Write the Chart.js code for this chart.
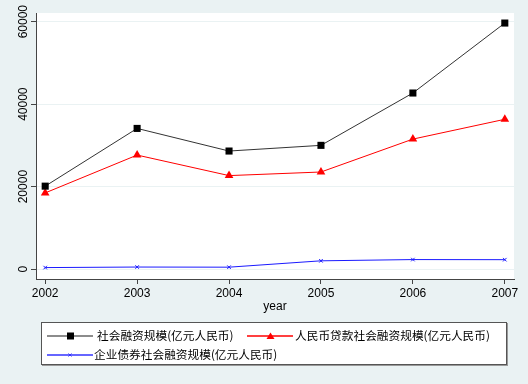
<!DOCTYPE html>
<html lang="zh">
  <head>
    <meta charset="UTF-8" />
    <title>社会融资规模</title>
    <script src="https://cdn.jsdelivr.net/npm/chart.js"></script>
    <style>
      html, body {
        margin: 0;
        padding: 0;
        background: #eaf2f3;
      }
      #wrap {
        position: relative;
        width: 528px;
        height: 384px;
      }
      #legend {
        position: absolute;
        left: 41px;
        top: 322px;
        width: 466px;
        height: 43px;
        box-sizing: border-box;
        background: #fff;
        border: 1px solid #555;
        box-shadow: 1px 1px 0 #999;
        font: 11.7px "Noto Sans CJK SC", sans-serif;
        color: #000;
      }
      #legend .item {
        position: absolute;
        line-height: 16px;
        white-space: nowrap;
      }
      #legend svg {
        position: absolute;
      }
    </style>
  </head>

  <body>
    <div id="wrap">
      <canvas id="chart" width="528" height="384"></canvas>
      <div id="legend"></div>
    </div>

    <script>
      const years = [2002, 2003, 2004, 2005, 2006, 2007];
      const total = [20112, 34113, 28629, 30008, 42696, 59663];
      const loans = [18475, 27652, 22673, 23544, 31523, 36323];
      const bonds = [367, 499, 467, 2010, 2310, 2284];
      const yTicks = [0, 20000, 40000, 60000];
      const seriesNames = [
        "社会融资规模(亿元人民币)",
        "人民币贷款社会融资规模(亿元人民币)",
        "企业债券社会融资规模(亿元人民币)",
      ];

      const axisColor = "#444";
      const tickFont = { family: "Liberation Sans", size: 12 };

      // white plot region + rotated y labels (Stata style)
      const plotBg = {
        id: "plotBg",
        beforeDraw(chart) {
          const { ctx, chartArea: a } = chart;
          ctx.save();
          ctx.fillStyle = "#fff";
          ctx.fillRect(a.left, a.top, a.right - a.left, a.bottom - a.top);
          ctx.restore();
        },
        afterDraw(chart) {
          const ctx = chart.ctx;
          const y = chart.scales.y;
          ctx.save();
          ctx.fillStyle = "#000";
          ctx.font = "12px 'Liberation Sans'";
          ctx.textAlign = "center";
          ctx.textBaseline = "alphabetic";
          yTicks.forEach((v) => {
            ctx.save();
            ctx.translate(27, y.getPixelForValue(v));
            ctx.rotate(-Math.PI / 2);
            ctx.fillText(String(v), 0, 0);
            ctx.restore();
          });
          ctx.restore();
        },
      };

      const toXY = (arr) => arr.map((v, i) => ({ x: years[i], y: v }));

      new Chart(document.getElementById("chart"), {
        type: "line",
        data: {
          datasets: [
            {
              label: seriesNames[0],
              data: toXY(total),
              borderColor: "#333",
              borderWidth: 1,
              pointStyle: "rect",
              pointRadius: 5,
              pointBackgroundColor: "#000",
              pointBorderColor: "#000",
              pointBorderWidth: 0,
            },
            {
              label: seriesNames[1],
              data: toXY(loans),
              borderColor: "#ff0000",
              borderWidth: 1,
              pointStyle: "triangle",
              pointRadius: 5,
              pointBackgroundColor: "#ff0000",
              pointBorderColor: "#ff0000",
              pointBorderWidth: 0,
            },
            {
              label: seriesNames[2],
              data: toXY(bonds),
              borderColor: "#1a1aff",
              borderWidth: 1,
              pointStyle: "crossRot",
              pointRadius: 2.5,
              pointBorderColor: "#1a1aff",
              pointBorderWidth: 1,
            },
          ],
        },
        options: {
          responsive: false,
          animation: false,
          layout: { padding: { left: 0, top: 13, right: 14, bottom: 70 } },
          plugins: {
            legend: { display: false },
            tooltip: { enabled: false },
          },
          scales: {
            x: {
              type: "linear",
              min: 2001.9,
              max: 2007.1,
              afterBuildTicks: (s) => {
                s.ticks = years.map((v) => ({ value: v }));
              },
              afterFit: (s) => {
                s.height = 35;
              },
              grid: {
                drawOnChartArea: false,
                drawTicks: true,
                tickLength: 5,
                tickColor: axisColor,
              },
              border: { display: true, color: axisColor, width: 1 },
              ticks: {
                color: "#000",
                font: tickFont,
                padding: 2,
                maxRotation: 0,
                callback: (v) => String(v),
              },
              title: {
                display: true,
                text: "year",
                color: "#000",
                font: tickFont,
                padding: 0,
              },
            },
            y: {
              min: -2400,
              max: 62100,
              afterBuildTicks: (s) => {
                s.ticks = yTicks.map((v) => ({ value: v }));
              },
              afterFit: (s) => {
                s.width = 36;
              },
              grid: {
                color: "#eaf2f3",
                lineWidth: 1,
                drawTicks: true,
                tickLength: 5,
                tickColor: axisColor,
              },
              border: { display: true, color: axisColor, width: 1 },
              ticks: { display: false },
            },
          },
        },
        plugins: [plotBg],
      });

      // legend box under the plot
      const legend = document.getElementById("legend");
      const legendItems = [
        { name: seriesNames[0], line: "#666", lx: 5, tx: 55, ty: 4, cy: 13, marker: '<rect x="20" y="9.5" width="7" height="7" fill="#000"/>' },
        { name: seriesNames[1], line: "#ff0000", lx: 205, tx: 253, ty: 4, cy: 13, marker: '<polygon points="23.5,9.5 27.5,16 19.5,16" fill="#ff0000"/>' },
        { name: seriesNames[2], line: "#3333ff", lx: 5, tx: 52, ty: 23, cy: 32, marker: '<path d="M21.5,11.5 L24.5,14.5 M24.5,11.5 L21.5,14.5" stroke="#3333ff" stroke-width="1"/>' },
      ];
      legendItems.forEach((it) => {
        const svg = document.createElementNS("http://www.w3.org/2000/svg", "svg");
        svg.setAttribute("width", "46");
        svg.setAttribute("height", "26");
        svg.style.left = it.lx + "px";
        svg.style.top = it.cy - 13 + "px";
        svg.innerHTML = '<line x1="0" y1="13" x2="46" y2="13" stroke="' + it.line + '" stroke-width="1.5"/>' + it.marker;
        legend.appendChild(svg);
        const span = document.createElement("span");
        span.className = "item";
        span.style.left = it.tx + "px";
        span.style.top = it.ty + "px";
        span.textContent = it.name;
        legend.appendChild(span);
      });
    </script>
  </body>
</html>
